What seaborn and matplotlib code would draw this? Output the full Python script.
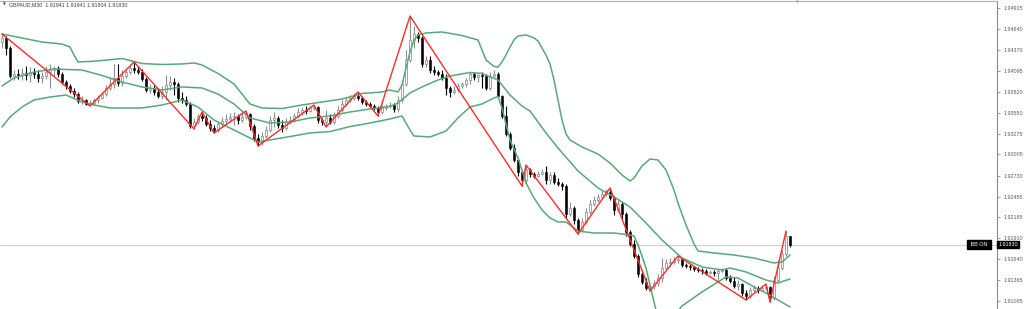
import numpy as np
import pandas as pd
import matplotlib
matplotlib.use("Agg")
import matplotlib.pyplot as plt
import seaborn as sns

# ---------------- data ----------------
symbol = "GBPAUD,M30"
last_ohlc = [1.91941, 1.91941, 1.91804, 1.91830]
current_price = 1.91830

opens = [
    1.94471, 1.94524, 1.94393, 1.94028, 1.94054, 1.94041, 1.94067, 1.94041, 1.94080, 1.94054,
    1.94002, 1.94028, 1.94080, 1.94106, 1.94132, 1.94054, 1.93950, 1.93898, 1.93833, 1.93793,
    1.93702, 1.93715, 1.93663, 1.93676, 1.93715, 1.93741, 1.93793, 1.93872, 1.93924, 1.94002,
    1.93937, 1.94028, 1.94080, 1.94132, 1.94106, 1.94080, 1.93989, 1.93846, 1.93872, 1.93820,
    1.93767, 1.93820, 1.93911, 1.93950, 1.93924, 1.93741, 1.93715, 1.93663, 1.93376, 1.93428,
    1.93507, 1.93481, 1.93402, 1.93350, 1.93324, 1.93402, 1.93441, 1.93468, 1.93494, 1.93507,
    1.93454, 1.93494, 1.93533, 1.93376, 1.93220, 1.93168, 1.93246, 1.93324, 1.93454, 1.93481,
    1.93389, 1.93350, 1.93428, 1.93454, 1.93507, 1.93559, 1.93585, 1.93572, 1.93611, 1.93624,
    1.93454, 1.93428, 1.93481, 1.93428, 1.93507, 1.93585, 1.93663, 1.93715, 1.93741, 1.93767,
    1.93741, 1.93689, 1.93663, 1.93637, 1.93611, 1.93559, 1.93611, 1.93637, 1.93650, 1.93598,
    1.93715, 1.93924, 1.94237, 1.94498, 1.94576, 1.94524, 1.94185, 1.94237, 1.94106, 1.94080,
    1.94054, 1.94002, 1.93872, 1.93820, 1.93846, 1.93898, 1.93924, 1.93976, 1.94054, 1.94015,
    1.94041, 1.94028, 1.93872, 1.94028, 1.94054, 1.93767, 1.93507, 1.93272, 1.93089, 1.92933,
    1.92777, 1.92672, 1.92803, 1.92750, 1.92724, 1.92750, 1.92777, 1.92672, 1.92737, 1.92646,
    1.92620, 1.92594, 1.92229, 1.92307, 1.92151, 1.92020, 1.92125, 1.92255, 1.92359, 1.92411,
    1.92451, 1.92490, 1.92516, 1.92438, 1.92281, 1.92359, 1.92229, 1.91994, 1.91838, 1.91681,
    1.91447, 1.91342, 1.91264, 1.91290, 1.91329, 1.91395, 1.91525, 1.91590, 1.91603, 1.91629,
    1.91642, 1.91564, 1.91551, 1.91538, 1.91512, 1.91499, 1.91486, 1.91460, 1.91473, 1.91460,
    1.91486, 1.91499, 1.91395, 1.91355, 1.91290, 1.91316, 1.91199, 1.91160, 1.91238, 1.91264,
    1.91238, 1.91264, 1.91277, 1.91134, 1.91368, 1.91525, 1.91707, 1.91941,
]

highs = [
    1.94576, 1.94550, 1.94419, 1.94106, 1.94119, 1.94132, 1.94159, 1.94145, 1.94132, 1.94106,
    1.94080, 1.94159, 1.94185, 1.94159, 1.94159, 1.94080, 1.93976, 1.93924, 1.93872, 1.93820,
    1.93767, 1.93728, 1.93715, 1.93741, 1.93780, 1.93820, 1.93911, 1.94002, 1.94185, 1.94185,
    1.94106, 1.94132, 1.94185, 1.94211, 1.94159, 1.94119, 1.94015, 1.93924, 1.93911, 1.93872,
    1.93898, 1.94041, 1.94028, 1.94002, 1.93950, 1.93820, 1.93767, 1.93689, 1.93481, 1.93533,
    1.93559, 1.93520, 1.93454, 1.93389, 1.93441, 1.93494, 1.93533, 1.93546, 1.93559, 1.93533,
    1.93546, 1.93572, 1.93546, 1.93402, 1.93272, 1.93298, 1.93376, 1.93507, 1.93559, 1.93507,
    1.93454, 1.93481, 1.93507, 1.93546, 1.93611, 1.93624, 1.93637, 1.93637, 1.93650, 1.93637,
    1.93481, 1.93585, 1.93533, 1.93559, 1.93637, 1.93715, 1.93754, 1.93780, 1.93807, 1.93820,
    1.93767, 1.93715, 1.93689, 1.93663, 1.93637, 1.93650, 1.93663, 1.93689, 1.93676, 1.93767,
    1.93976, 1.94367, 1.94810, 1.94680, 1.94602, 1.94550, 1.94289, 1.94289, 1.94159, 1.94106,
    1.94106, 1.94054, 1.93898, 1.93898, 1.93937, 1.93950, 1.94002, 1.94080, 1.94080, 1.94054,
    1.94080, 1.94054, 1.94080, 1.94106, 1.94080, 1.93780, 1.93637, 1.93298, 1.93142, 1.92959,
    1.92803, 1.92868, 1.92829, 1.92777, 1.92790, 1.92816, 1.92855, 1.92777, 1.92777, 1.92698,
    1.92646, 1.92620, 1.92385, 1.92333, 1.92177, 1.92177, 1.92307, 1.92411, 1.92464, 1.92490,
    1.92529, 1.92555, 1.92568, 1.92464, 1.92411, 1.92385, 1.92255, 1.92020, 1.91890, 1.91707,
    1.91499, 1.91395, 1.91316, 1.91368, 1.91447, 1.91655, 1.91642, 1.91655, 1.91668, 1.91681,
    1.91655, 1.91590, 1.91577, 1.91551, 1.91538, 1.91525, 1.91512, 1.91499, 1.91499, 1.91512,
    1.91525, 1.91525, 1.91434, 1.91408, 1.91368, 1.91329, 1.91238, 1.91277, 1.91303, 1.91290,
    1.91303, 1.91316, 1.91290, 1.91421, 1.91629, 1.91760, 1.92007, 1.91941,
]

lows = [
    1.94393, 1.94302, 1.94002, 1.93976, 1.93989, 1.93976, 1.93976, 1.93950, 1.94002, 1.93950,
    1.93937, 1.93989, 1.93872, 1.94028, 1.94015, 1.93924, 1.93859, 1.93807, 1.93754, 1.93676,
    1.93663, 1.93650, 1.93637, 1.93650, 1.93676, 1.93728, 1.93767, 1.93846, 1.93872, 1.93898,
    1.93898, 1.94002, 1.94054, 1.94067, 1.94054, 1.93963, 1.93820, 1.93807, 1.93780, 1.93741,
    1.93728, 1.93715, 1.93846, 1.93780, 1.93689, 1.93676, 1.93637, 1.93350, 1.93337, 1.93402,
    1.93441, 1.93376, 1.93311, 1.93285, 1.93298, 1.93363, 1.93402, 1.93428, 1.93389, 1.93402,
    1.93428, 1.93468, 1.93324, 1.93181, 1.93115, 1.93129, 1.93220, 1.93298, 1.93363, 1.93350,
    1.93298, 1.93324, 1.93402, 1.93428, 1.93481, 1.93520, 1.93533, 1.93559, 1.93585, 1.93415,
    1.93389, 1.93363, 1.93402, 1.93402, 1.93481, 1.93559, 1.93637, 1.93689, 1.93715, 1.93715,
    1.93663, 1.93637, 1.93611, 1.93585, 1.93507, 1.93533, 1.93585, 1.93611, 1.93559, 1.93559,
    1.93689, 1.93898, 1.94211, 1.94393, 1.94471, 1.94145, 1.94145, 1.94067, 1.94041, 1.94028,
    1.93976, 1.93780, 1.93754, 1.93793, 1.93820, 1.93872, 1.93885, 1.93924, 1.93976, 1.93950,
    1.93872, 1.93846, 1.93846, 1.94015, 1.93741, 1.93481, 1.93246, 1.93063, 1.92907, 1.92724,
    1.92594, 1.92646, 1.92711, 1.92698, 1.92711, 1.92737, 1.92620, 1.92620, 1.92620, 1.92594,
    1.92542, 1.92177, 1.92203, 1.92099, 1.91968, 1.91994, 1.92099, 1.92229, 1.92333, 1.92385,
    1.92424, 1.92464, 1.92411, 1.92216, 1.92255, 1.92151, 1.91942, 1.91812, 1.91655, 1.91408,
    1.91316, 1.91238, 1.91225, 1.91251, 1.91290, 1.91342, 1.91499, 1.91551, 1.91577, 1.91590,
    1.91538, 1.91525, 1.91499, 1.91486, 1.91473, 1.91447, 1.91434, 1.91447, 1.91421, 1.91342,
    1.91473, 1.91368, 1.91329, 1.91264, 1.91238, 1.91160, 1.91108, 1.91134, 1.91212, 1.91199,
    1.91225, 1.91238, 1.91082, 1.91108, 1.91342, 1.91499, 1.91681, 1.91804,
]

closes = [
    1.94524, 1.94393, 1.94028, 1.94054, 1.94041, 1.94067, 1.94041, 1.94080, 1.94054, 1.94002,
    1.94028, 1.94080, 1.94106, 1.94132, 1.94054, 1.93950, 1.93898, 1.93833, 1.93793, 1.93702,
    1.93715, 1.93663, 1.93676, 1.93715, 1.93741, 1.93793, 1.93872, 1.93924, 1.94002, 1.93937,
    1.94028, 1.94080, 1.94132, 1.94106, 1.94080, 1.93989, 1.93846, 1.93872, 1.93820, 1.93767,
    1.93820, 1.93911, 1.93950, 1.93924, 1.93741, 1.93715, 1.93663, 1.93376, 1.93428, 1.93507,
    1.93481, 1.93402, 1.93350, 1.93324, 1.93402, 1.93441, 1.93468, 1.93494, 1.93507, 1.93454,
    1.93494, 1.93533, 1.93376, 1.93220, 1.93168, 1.93246, 1.93324, 1.93454, 1.93481, 1.93389,
    1.93350, 1.93428, 1.93454, 1.93507, 1.93559, 1.93585, 1.93572, 1.93611, 1.93624, 1.93454,
    1.93428, 1.93481, 1.93428, 1.93507, 1.93585, 1.93663, 1.93715, 1.93741, 1.93767, 1.93741,
    1.93689, 1.93663, 1.93637, 1.93611, 1.93559, 1.93611, 1.93637, 1.93650, 1.93598, 1.93715,
    1.93924, 1.94237, 1.94498, 1.94576, 1.94524, 1.94185, 1.94237, 1.94106, 1.94080, 1.94054,
    1.94002, 1.93872, 1.93820, 1.93846, 1.93898, 1.93924, 1.93976, 1.94054, 1.94015, 1.94041,
    1.94028, 1.93872, 1.94028, 1.94054, 1.93767, 1.93507, 1.93272, 1.93089, 1.92933, 1.92777,
    1.92672, 1.92803, 1.92750, 1.92724, 1.92750, 1.92777, 1.92672, 1.92737, 1.92646, 1.92620,
    1.92594, 1.92229, 1.92307, 1.92151, 1.92020, 1.92125, 1.92255, 1.92359, 1.92411, 1.92451,
    1.92490, 1.92516, 1.92438, 1.92281, 1.92359, 1.92229, 1.91994, 1.91838, 1.91681, 1.91447,
    1.91342, 1.91264, 1.91290, 1.91329, 1.91395, 1.91525, 1.91590, 1.91603, 1.91629, 1.91642,
    1.91564, 1.91551, 1.91538, 1.91512, 1.91499, 1.91486, 1.91460, 1.91473, 1.91460, 1.91486,
    1.91499, 1.91395, 1.91355, 1.91290, 1.91316, 1.91199, 1.91160, 1.91238, 1.91264, 1.91238,
    1.91264, 1.91277, 1.91134, 1.91368, 1.91525, 1.91707, 1.91941, 1.91830,
]

# Bollinger band lines, read at selected bars
bb_upper_bar = [0, 5, 10, 15, 17, 18, 19, 22, 25, 30,
                35, 40, 45, 48, 50, 54, 58, 62, 65, 70,
                75, 80, 85, 90, 95, 97, 99, 100, 101, 102,
                103, 104, 106, 110, 115, 119, 120, 121, 123, 124,
                125, 126, 127, 128, 129, 131, 133, 134, 136, 137,
                138, 139, 140, 141, 142, 145, 149, 152, 155, 157,
                158, 160, 162, 164, 166, 168, 169, 171, 173, 174,
                178, 183, 188, 193, 195, 197]
bb_upper = [1.94576, 1.94524, 1.94471, 1.94445, 1.94406, 1.94302, 1.94211, 1.94218, 1.94230, 1.94256,
            1.94191, 1.94178, 1.94185, 1.94198, 1.94172, 1.94061, 1.93924, 1.93663, 1.93611, 1.93604,
            1.93650, 1.93689, 1.93728, 1.93800, 1.93820, 1.93846, 1.93820, 1.93911, 1.94132, 1.94341,
            1.94498, 1.94563, 1.94589, 1.94602, 1.94556, 1.94498, 1.94367, 1.94237, 1.94152, 1.94145,
            1.94211, 1.94302, 1.94406, 1.94498, 1.94550, 1.94563, 1.94524, 1.94484, 1.94302, 1.94185,
            1.93976, 1.93715, 1.93454, 1.93272, 1.93194, 1.93102, 1.93011, 1.92894, 1.92737, 1.92659,
            1.92698, 1.92855, 1.92946, 1.92933, 1.92803, 1.92542, 1.92372, 1.92086, 1.91838, 1.91747,
            1.91721, 1.91694, 1.91655, 1.91590, 1.91603, 1.91694]

bb_mid_bar = [0, 3, 8, 13, 20, 25, 30, 35, 40, 45,
              50, 54, 58, 62, 67, 72, 77, 82, 87, 92,
              97, 99, 102, 105, 109, 112, 117, 120, 124, 127,
              130, 132, 136, 139, 144, 149, 153, 157, 161, 165,
              170, 175, 180, 182, 186, 191, 194, 197]
bb_mid = [1.93898, 1.94002, 1.94080, 1.94119, 1.94106, 1.94035, 1.93950, 1.93885, 1.93846, 1.93885,
          1.93872, 1.93793, 1.93663, 1.93481, 1.93415, 1.93428, 1.93481, 1.93507, 1.93559, 1.93598,
          1.93631, 1.93676, 1.93807, 1.93885, 1.93976, 1.94028, 1.94074, 1.94061, 1.93976, 1.93780,
          1.93637, 1.93572, 1.93285, 1.93089, 1.92790, 1.92568, 1.92451, 1.92320, 1.92112, 1.91890,
          1.91655, 1.91538, 1.91499, 1.91525, 1.91473, 1.91368, 1.91329, 1.91381]

bb_lower_bar = [0, 2, 5, 8, 12, 16, 20, 23, 27, 32,
                35, 40, 45, 49, 53, 58, 61, 64, 67, 72,
                77, 82, 87, 92, 97, 100, 102, 103, 107, 111,
                114, 117, 120, 123, 124, 125, 126, 127, 129, 131,
                133, 135, 137, 139, 141, 144, 148, 153, 157, 158,
                159, 160, 161, 162, 163, 164, 166, 168, 170, 175,
                179, 181, 184, 188, 191, 194, 197]
bb_lower = [1.93363, 1.93494, 1.93624, 1.93715, 1.93754, 1.93780, 1.93689, 1.93650, 1.93611, 1.93611,
            1.93611, 1.93650, 1.93715, 1.93624, 1.93454, 1.93324, 1.93246, 1.93168, 1.93194, 1.93239,
            1.93285, 1.93304, 1.93369, 1.93415, 1.93468, 1.93507, 1.93324, 1.93246, 1.93233, 1.93311,
            1.93481, 1.93624, 1.93663, 1.93741, 1.93761, 1.93611, 1.93402, 1.93194, 1.92959, 1.92633,
            1.92438, 1.92281, 1.92177, 1.92125, 1.92125, 1.92007, 1.91981, 1.91981, 1.91955, 1.91942,
            1.91825, 1.91681, 1.91525, 1.91303, 1.91082, 1.90873, 1.90821, 1.90899, 1.91030, 1.91212,
            1.91342, 1.91408, 1.91395, 1.91277, 1.91199, 1.91108, 1.91017]

# ZigZag pivots: bar index and whether it is a high or a low
zz_bar = [0, 22, 33, 48, 50, 53, 61, 64, 78, 81, 89, 94, 102, 130, 131, 144, 152, 162, 169, 186, 191, 192, 196]
zz_kind = ["H", "L", "H", "L", "H", "L", "H", "L", "H", "L", "H", "L",
           "H", "L", "H", "L", "H", "L", "H", "L", "H", "L", "H"]

price_ticks = [1.94915, 1.94640, 1.94370, 1.94095, 1.93820, 1.93550, 1.93275, 1.93005,
               1.92730, 1.92455, 1.92185, 1.91910, 1.91640, 1.91365, 1.91095]

# ---------------- style ----------------
sns.set_style("white")
plt.rcParams["font.family"] = ["Liberation Sans", "DejaVu Sans"]

W, H = 1024, 309
fig = plt.figure(figsize=(W / 100, H / 100), dpi=100)
ax = fig.add_axes([0, 0, 997 / W, 308 / H])

GREEN = "#57a97a"
RED = "#ff2b2b"
UP_EDGE = "#8e8e8e"

n = len(closes)
bars = np.arange(n)
o = np.array(opens)
c = np.array(closes)
hi = np.array(highs)
lo = np.array(lows)
up = c >= o

# current price line
ax.axhline(current_price, color="#cfcfcf", lw=0.8, zorder=1)

# wicks
ax.vlines(bars[up], lo[up], hi[up], colors=UP_EDGE, lw=0.8, zorder=2)
ax.vlines(bars[~up], lo[~up], hi[~up], colors="black", lw=0.8, zorder=2)

# bodies
body_bottom = np.minimum(o, c)
body_h = np.maximum(np.abs(c - o), 0.00004)
ax.bar(bars[up], body_h[up], bottom=body_bottom[up], width=0.7,
       color="white", edgecolor=UP_EDGE, linewidth=0.55, zorder=3)
ax.bar(bars[~up], body_h[~up], bottom=body_bottom[~up], width=0.7,
       color="black", edgecolor="black", linewidth=0.4, zorder=3)

# Bollinger bands
bands = pd.concat([
    pd.DataFrame({"bar": bb_upper_bar, "price": bb_upper, "band": "upper"}),
    pd.DataFrame({"bar": bb_mid_bar, "price": bb_mid, "band": "middle"}),
    pd.DataFrame({"bar": bb_lower_bar, "price": bb_lower, "band": "lower"}),
])
sns.lineplot(data=bands, x="bar", y="price", units="band", estimator=None,
             color=GREEN, lw=1.1, ax=ax, zorder=4, legend=False)

# ZigZag
zz_price = [highs[b] if k == "H" else lows[b] for b, k in zip(zz_bar, zz_kind)]
sns.lineplot(x=zz_bar, y=zz_price, color=RED, lw=1.0, ax=ax, zorder=5,
             estimator=None, sort=False)

# ---------------- axes ----------------
ax.set_xlim(-0.5, 248.75)
ax.set_ylim(1.90990, 1.95006)
ax.set_xlabel("")
ax.set_ylabel("")
ax.set_xticks([])
ax.yaxis.tick_right()
ax.set_yticks(price_ticks)
ax.set_yticklabels([f"{t:.5f}" for t in price_ticks])
ax.tick_params(axis="y", direction="out", length=2.5, width=0.6, colors="#8a8a8a",
               labelcolor="#5a5a5a", labelsize=3.9, pad=2)
for s in ["left", "bottom"]:
    ax.spines[s].set_visible(False)
ax.spines["right"].set_color("#8a8a8a")
ax.spines["right"].set_linewidth(0.8)
ax.spines["top"].set_color("#b0b0b0")
ax.spines["top"].set_linewidth(0.8)

# current price box on the axis
ax.text(1.0015, current_price, f"{current_price:.5f}", transform=ax.get_yaxis_transform(),
        ha="left", va="center", fontsize=3.9, color="white", zorder=10,
        bbox=dict(boxstyle="square,pad=0.25", fc="black", ec="black"), clip_on=False)

# "BB ON" label
ax.text(979 / 997, current_price, " BB ON ", transform=ax.get_yaxis_transform(),
        ha="center", va="center", fontsize=3.9, color="white", zorder=10,
        bbox=dict(boxstyle="square,pad=0.3", fc="black", ec="black"))

# header
header = symbol + "  " + " ".join(f"{v:.5f}" for v in last_ohlc)
fig.text(3 / W, 1 - 5 / H, "\u25BC", fontsize=2.6, color="#404040",
         ha="left", va="center", family=["DejaVu Sans"])
fig.text(9 / W, 1 - 5 / H, header, fontsize=3.8, color="#404040", ha="left", va="center")

# chart shift marker
fig.text(797 / W, 1 - 2.5 / H, "\u25BC", fontsize=2.6, color="#a8a8a8",
         ha="center", va="center", family=["DejaVu Sans"])

fig.savefig("out.png", dpi=100)
